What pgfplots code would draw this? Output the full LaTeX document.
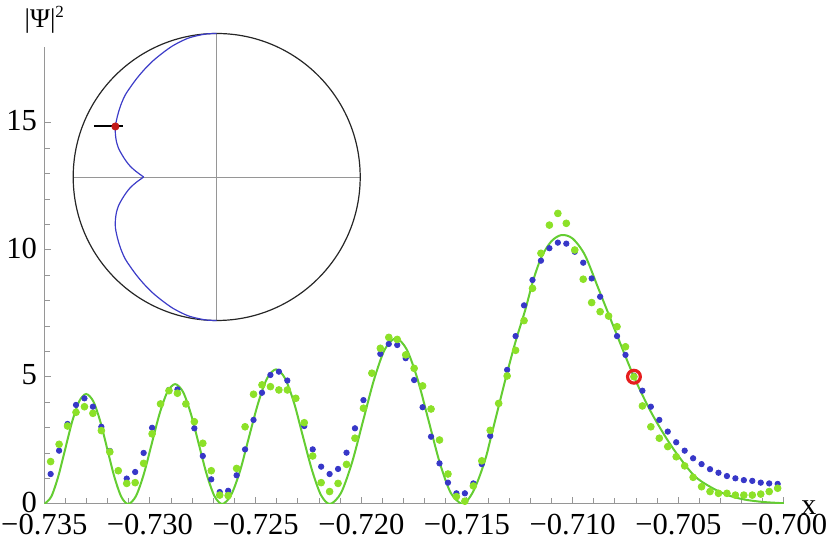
\documentclass[border=0pt]{standalone}
\usepackage{fontspec}
\setmainfont{Liberation Serif}
\usepackage{pgfplots}
\pgfplotsset{compat=1.18}
\definecolor{dotblue}{RGB}{55,55,200}
\definecolor{dotgreen}{RGB}{140,225,40}
\definecolor{linegreen}{RGB}{100,205,50}
\definecolor{axgray}{RGB}{150,150,150}
\definecolor{ringred}{RGB}{230,30,30}
\definecolor{inblue}{RGB}{60,60,200}
\begin{document}
\begin{tikzpicture}
\useasboundingbox (0,0) rectangle (415pt,269.5pt);
\begin{axis}[
 at={(22.15pt,17.5pt)}, anchor=south west,
 scale only axis, width=369.85pt, height=228.6pt,
 xmin=-0.735, xmax=-0.700, ymin=0, ymax=18,
 axis lines=left, axis line style={-, axgray, line width=0.5pt},
 xtick={-0.735,-0.73,-0.725,-0.72,-0.715,-0.71,-0.705,-0.7},
 xticklabels={−0.735,−0.730,−0.725,−0.720,−0.715,−0.710,−0.705,−0.700},
 minor x tick num=4,
 ytick={0,5,10,15}, yticklabels={0,5,10,15}, minor y tick num=4,
 tick align=inside,
 major tick length=3.5pt, minor tick length=3pt,
 every tick/.style={axgray, line width=0.5pt},
 tick label style={font=\fontsize{15.3}{17}\selectfont, black},
 xticklabel style={yshift=-3pt, inner ysep=2pt},
 yticklabel style={inner sep=0pt, xshift=-3.5pt, yshift=1pt},
 xlabel={x}, ylabel={|Ψ|\raisebox{0.85ex}{\fontsize{8.5}{9}\selectfont 2}},
 every axis x label/.style={at={(axis description cs:1.0335,-0.0070)}, anchor=center, inner sep=0pt, font=\fontsize{15}{17}\selectfont},
 every axis y label/.style={at={(axis description cs:0,1.0586)}, anchor=center, font=\fontsize{13.5}{15}\selectfont},
]
\addplot[only marks, mark=*, mark size=1.35pt, mark options={draw=dotblue, fill=dotblue}] coordinates {
(-0.7347,1.18)(-0.7343,2.10)(-0.7339,3.15)(-0.7335,3.90)(-0.7331,4.16)(-0.7327,3.83)(-0.7323,3.04)(-0.7319,2.09)(-0.7315,1.31)(-0.7311,1.00)
(-0.7307,1.26)(-0.7303,2.01)(-0.7299,3.00)(-0.7295,3.94)(-0.7291,4.49)(-0.7287,4.51)(-0.7283,3.94)(-0.7279,2.98)(-0.7275,1.89)(-0.7271,0.97)
(-0.7267,0.47)(-0.7263,0.52)(-0.7259,1.13)(-0.7255,2.15)(-0.7251,3.31)(-0.7247,4.38)(-0.7243,5.08)(-0.7239,5.21)(-0.7235,4.86)(-0.7231,4.16)
(-0.7227,3.07)(-0.7223,2.15)(-0.7219,1.47)(-0.7215,1.18)(-0.7211,1.38)(-0.7207,2.02)(-0.7203,2.98)(-0.7199,4.09)(-0.7195,5.15)(-0.7191,5.91)
(-0.7187,6.30)(-0.7183,6.26)(-0.7179,5.74)(-0.7175,4.88)(-0.7171,3.81)(-0.7167,2.65)(-0.7163,1.60)(-0.7159,0.84)(-0.7155,0.42)(-0.7151,0.42)
(-0.7147,0.81)(-0.7143,1.57)(-0.7139,2.68)(-0.7135,3.96)(-0.7131,5.28)(-0.7127,6.61)(-0.7123,7.82)(-0.7119,8.82)(-0.7115,9.58)(-0.7111,10.07)
(-0.7107,10.29)(-0.7103,10.25)(-0.7099,9.93)(-0.7095,9.50)(-0.7091,8.88)(-0.7087,8.16)(-0.7083,7.40)(-0.7079,6.61)(-0.7075,5.87)(-0.7071,5.05)
(-0.7067,4.46)(-0.7063,3.83)(-0.7059,3.31)(-0.7055,2.85)(-0.7051,2.43)(-0.7047,2.10)(-0.7043,1.80)(-0.7039,1.57)(-0.7035,1.37)(-0.7031,1.23)
(-0.7027,1.10)(-0.7023,1.01)(-0.7019,0.94)(-0.7015,0.91)(-0.7011,0.84)(-0.7007,0.81)(-0.7003,0.79)};
\addplot[only marks, mark=*, mark size=1.7pt, mark options={draw=dotgreen, fill=dotgreen}] coordinates {
(-0.7347,1.67)(-0.7343,2.35)(-0.7339,3.07)(-0.7335,3.61)(-0.7331,3.83)(-0.7327,3.57)(-0.7323,2.89)(-0.7319,2.05)(-0.7315,1.31)(-0.7311,0.81)
(-0.7307,0.84)(-0.7303,1.60)(-0.7299,2.76)(-0.7295,3.94)(-0.7291,4.46)(-0.7287,4.36)(-0.7283,3.94)(-0.7279,3.24)(-0.7275,2.39)(-0.7271,1.31)
(-0.7267,0.35)(-0.7263,0.33)(-0.7259,1.40)(-0.7255,3.04)(-0.7251,4.32)(-0.7247,4.69)(-0.7243,4.62)(-0.7239,4.49)(-0.7235,4.49)(-0.7231,4.16)
(-0.7227,3.20)(-0.7223,1.89)(-0.7219,0.84)(-0.7215,0.49)(-0.7211,0.81)(-0.7207,1.56)(-0.7203,2.59)(-0.7199,3.77)(-0.7195,5.15)(-0.7191,6.13)
(-0.7187,6.56)(-0.7183,6.48)(-0.7179,5.87)(-0.7175,5.34)(-0.7171,4.65)(-0.7167,3.74)(-0.7163,2.52)(-0.7159,1.18)(-0.7155,0.29)(-0.7151,0.11)
(-0.7147,0.71)(-0.7143,1.70)(-0.7139,2.90)(-0.7135,3.96)(-0.7131,5.04)(-0.7127,6.05)(-0.7123,7.22)(-0.7119,8.49)(-0.7115,9.87)(-0.7111,10.98)
(-0.7107,11.44)(-0.7103,11.05)(-0.7099,10.00)(-0.7095,8.85)(-0.7091,7.93)(-0.7087,7.57)(-0.7083,7.40)(-0.7079,6.98)(-0.7075,6.19)(-0.7071,5.01)
(-0.7067,3.86)(-0.7063,3.04)(-0.7059,2.59)(-0.7055,2.26)(-0.7051,1.86)(-0.7047,1.50)(-0.7043,1.05)(-0.7039,0.68)(-0.7035,0.49)(-0.7031,0.42)
(-0.7027,0.42)(-0.7023,0.35)(-0.7019,0.35)(-0.7015,0.35)(-0.7011,0.39)(-0.7007,0.49)(-0.7003,0.62)};
\addplot[linegreen, line width=1pt, smooth] coordinates {
(-0.73500,0)(-0.73467,0.290)(-0.73434,1.083)(-0.73401,2.165)(-0.73368,3.248)(-0.73335,4.040)(-0.73302,4.330)(-0.73268,4.040)(-0.73235,3.248)(-0.73202,2.165)(-0.73169,1.083)(-0.73136,0.290)
(-0.73103,0)(-0.73066,0.316)(-0.73029,1.180)(-0.72992,2.360)(-0.72955,3.540)(-0.72918,4.404)(-0.72881,4.720)(-0.72843,4.404)(-0.72806,3.540)(-0.72769,2.360)(-0.72732,1.180)(-0.72695,0.316)
(-0.72658,0)(-0.72616,0.355)(-0.72573,1.325)(-0.72531,2.650)(-0.72488,3.975)(-0.72446,4.945)(-0.72403,5.300)(-0.72361,4.945)(-0.72318,3.975)(-0.72276,2.650)(-0.72233,1.325)(-0.72191,0.355)
(-0.72148,0)(-0.72096,0.437)(-0.72044,1.630)(-0.71992,3.260)(-0.71940,4.890)(-0.71889,6.083)(-0.71837,6.520)(-0.71785,6.083)(-0.71733,4.890)(-0.71681,3.260)(-0.71629,1.630)(-0.71577,0.437)
(-0.71525,0)(-0.71500,0.12)(-0.71470,0.50)(-0.71440,1.10)(-0.71410,1.85)(-0.71383,2.75)(-0.71350,3.85)(-0.71312,5.10)(-0.71270,6.40)(-0.71225,7.62)(-0.71185,8.85)(-0.71146,9.75)(-0.71100,10.35)
(-0.71052,10.59)(-0.71000,10.45)(-0.70942,9.80)(-0.70879,8.50)(-0.70800,6.85)(-0.70710,5.01)(-0.70626,3.57)(-0.70531,2.26)(-0.70429,1.15)(-0.70350,0.68)(-0.70270,0.36)(-0.70190,0.18)(-0.70100,0.08)(-0.70000,0.03)};
\addplot[only marks, mark=o, mark size=3.2pt, mark options={draw=ringred, line width=1.6pt}] coordinates {(-0.7071,5.01)};
\end{axis}
\begin{axis}[
 at={(108.35pt,181pt)}, anchor=center,
 scale only axis, width=143.5pt, height=143.5pt,
 xmin=-1, xmax=1, ymin=-1, ymax=1, hide axis, clip=false]
\addplot[axgray, line width=0.4pt] coordinates {(-1,0)(1,0)};
\addplot[axgray, line width=0.4pt] coordinates {(0,-1)(0,1)};
\draw[black!85, line width=0.6pt] (axis cs:0,0) circle[radius=71.75pt];
\addplot[inblue, line width=0.6pt, smooth] coordinates {(0,1)(-0.07,0.997)(-0.139,0.984)(-0.20,0.967)(-0.255,0.942)(-0.31,0.912)(-0.36,0.877)(-0.41,0.838)(-0.451,0.803)(-0.505,0.748)(-0.556,0.688)(-0.60,0.628)(-0.637,0.572)(-0.663,0.515)(-0.683,0.456)(-0.697,0.402)(-0.706,0.352)(-0.706,0.30)(-0.699,0.248)(-0.684,0.20)(-0.660,0.155)(-0.633,0.113)(-0.602,0.074)(-0.56,0.037)(-0.509,0)};
\addplot[inblue, line width=0.6pt, smooth] coordinates {(0,-1)(-0.07,-0.997)(-0.139,-0.984)(-0.20,-0.967)(-0.255,-0.942)(-0.31,-0.912)(-0.36,-0.877)(-0.41,-0.838)(-0.451,-0.803)(-0.505,-0.748)(-0.556,-0.688)(-0.60,-0.628)(-0.637,-0.572)(-0.663,-0.515)(-0.683,-0.456)(-0.697,-0.402)(-0.706,-0.352)(-0.706,-0.30)(-0.699,-0.248)(-0.684,-0.20)(-0.660,-0.155)(-0.633,-0.113)(-0.602,-0.074)(-0.56,-0.037)(-0.509,0)};
\addplot[black, line width=1pt] coordinates {(-0.856,0.352)(-0.653,0.352)};
\addplot[only marks, mark=*, mark size=1.8pt, mark options={draw=ringred!85!black, fill=ringred!85!black}] coordinates {(-0.706,0.352)};
\end{axis}
\end{tikzpicture}
\end{document}
